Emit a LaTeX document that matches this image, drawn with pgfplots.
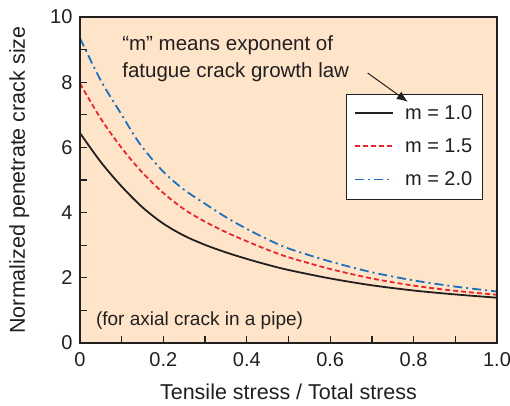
\documentclass[border=0pt]{standalone}
\usepackage{fontspec}
\setmainfont{Liberation Sans}
\usepackage{pgfplots}
\pgfplotsset{compat=1.18}
\usetikzlibrary{arrows.meta}
\definecolor{bg}{RGB}{254,228,201}
\definecolor{tx}{RGB}{35,31,32}
\definecolor{myred}{RGB}{232,38,43}
\definecolor{myblue}{RGB}{30,112,190}
\begin{document}
\begin{tikzpicture}
\begin{axis}[
  scale only axis, width=417pt, height=326pt,
  xmin=0, xmax=1, ymin=0, ymax=10,
  axis on top,
  axis background/.style={fill=bg},
  axis line style={line width=1.3pt, draw=tx},
  tick align=inside,
  xtick pos=left, ytick pos=left,
  major tick length=7pt, minor tick length=7pt,
  every tick/.append style={draw=tx, line width=1.3pt},
  every minor tick/.append style={draw=tx, line width=1.3pt},
  xtick={0,0.2,0.4,0.6,0.8,1.0}, xticklabels={0,0.2,0.4,0.6,0.8,1.0},
  minor xtick={0.1,0.3,0.5,0.7,0.9},
  ytick={0,2,4,6,8,10}, minor ytick={1,3,5,7,9},
  /pgf/number format/assume math mode=true,
  tick label style={font=\fontsize{20}{24}\selectfont, text=tx},
  xticklabel style={yshift=-6pt},
  yticklabel style={xshift=-4pt},
  label style={font=\fontsize{21.5}{25}\selectfont, text=tx},
  xlabel={Tensile stress / Total stress},
  ylabel={Normalized penetrate crack size},
  xlabel style={yshift=-10pt},
  ylabel style={yshift=14pt},
  legend style={at={(0.638,0.764)}, anchor=north west, draw=none, fill=none,
    font=\fontsize{20}{24}\selectfont, text=tx, inner xsep=8pt, inner ysep=9pt, row sep=14pt, column sep=9pt},
  legend cell align=left,
  legend image code/.code={\draw[#1] (0pt,0pt) -- (38pt,0pt);},
]
\draw[tx, line width=0.8pt, fill=white] (rel axis cs:0.638,0.439) rectangle (rel axis cs:0.964,0.764);
\addplot[tx, line width=1.8pt, smooth] coordinates {
(0,6.44) (0.05,5.55) (0.1,4.80) (0.15,4.16) (0.2,3.66) (0.25,3.29) (0.3,3.01) (0.35,2.78) (0.4,2.58) (0.45,2.40) (0.5,2.24) (0.6,1.98) (0.7,1.77) (0.8,1.61) (0.9,1.49) (1.0,1.39)};
\addlegendentry{m = 1.0}
\addplot[myred, line width=1.8pt, dash pattern=on 5pt off 3pt, smooth] coordinates {
(0,7.96) (0.05,6.88) (0.1,5.98) (0.15,5.22) (0.2,4.60) (0.25,4.10) (0.3,3.72) (0.35,3.40) (0.4,3.12) (0.45,2.86) (0.5,2.63) (0.6,2.27) (0.7,1.98) (0.8,1.76) (0.9,1.60) (1.0,1.48)};
\addlegendentry{m = 1.5}
\addplot[myblue, line width=1.8pt, dash pattern=on 9pt off 4pt on 2pt off 4pt, smooth] coordinates {
(0,9.35) (0.05,8.05) (0.1,7.00) (0.144,6.10) (0.2,5.25) (0.25,4.70) (0.3,4.27) (0.35,3.86) (0.4,3.50) (0.45,3.18) (0.5,2.90) (0.6,2.50) (0.7,2.17) (0.8,1.92) (0.9,1.73) (1.0,1.58)};
\addlegendentry{m = 2.0}
\node[anchor=west, text=tx, font=\fontsize{20.5}{24}\selectfont, inner sep=0pt] at (axis cs:0.101,9.12) {“m” means exponent of};
\node[anchor=west, text=tx, font=\fontsize{20.5}{24}\selectfont, inner sep=0pt] at (axis cs:0.101,8.31) {fatugue crack growth law};
\node[anchor=west, text=tx, font=\fontsize{19}{24}\selectfont, inner sep=0pt] at (axis cs:0.038,0.68) {(for axial crack in a pipe)};
\draw[-{Latex[length=11pt,width=9pt]}, tx, line width=1pt] (axis cs:0.690,8.28) -- (axis cs:0.786,7.40);
\end{axis}
\pgfresetboundingbox
\path[use as bounding box] ([xshift=-80pt,yshift=-62pt]current axis.south west) rectangle ([xshift=13pt,yshift=17pt]current axis.north east);
\end{tikzpicture}
\end{document}
